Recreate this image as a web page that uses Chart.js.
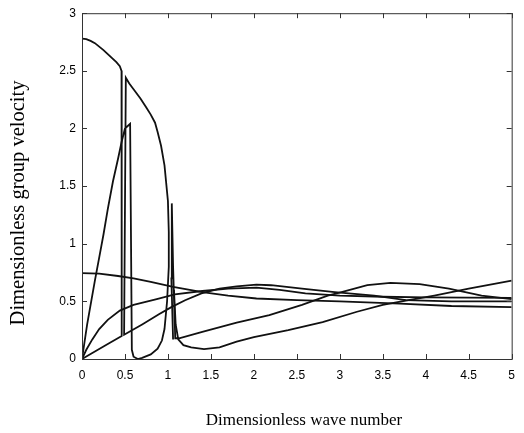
<!DOCTYPE html>
<html><head><meta charset="utf-8">
<script src="https://cdn.jsdelivr.net/npm/chart.js@4.4.1/dist/chart.umd.min.js"></script>
<style>html,body{margin:0;padding:0;background:#fff;}#wrap{width:524px;height:433px;}</style>
</head><body><div id="wrap"><canvas id="c" width="524" height="433"></canvas></div>
<script>
// Tick values
const xTickValues = [0, 0.5, 1, 1.5, 2, 2.5, 3, 3.5, 4, 4.5, 5];
const yTickValues = [0, 0.5, 1, 1.5, 2, 2.5, 3];
const xTitle = 'Dimensionless wave number';
const yTitle = 'Dimensionless group velocity';

// Curve 1: top branch, jump down, shallow line back to origin
const c1x = [0, 0.05, 0.1, 0.15, 0.2, 0.25, 0.3, 0.35, 0.4, 0.44, 0.46, 0.462, 0.3, 0.15, 0];
const c1y = [2.78, 2.775, 2.76, 2.74, 2.71, 2.68, 2.645, 2.61, 2.575, 2.54, 2.5, 0.2, 0.13, 0.065, 0];

// Curve 2: steep branch, U dip, descending branch, jump, rising line, hump at 2
const c2x = [0, 0.03, 0.06, 0.1, 0.15, 0.2, 0.25, 0.3, 0.36, 0.42, 0.46, 0.5, 0.56, 0.58, 0.6, 0.65, 0.7, 0.8, 0.88, 0.93, 0.96, 0.99, 1.01, 1.01, 1.0, 0.96, 0.92, 0.88, 0.85, 0.8, 0.75, 0.68, 0.6, 0.55, 0.51, 0.49, 0.7, 0.9, 1.04, 1.2, 1.39, 1.6, 1.8, 2.03, 2.2, 2.56, 2.94, 3.4, 3.77, 4.3, 5];
const c2y = [0, 0.15, 0.3, 0.47, 0.68, 0.88, 1.08, 1.3, 1.54, 1.74, 1.88, 2.0, 2.04, 0.08, 0.02, 0.0, 0.01, 0.04, 0.09, 0.16, 0.26, 0.5, 0.8, 1.1, 1.37, 1.68, 1.85, 1.97, 2.05, 2.12, 2.18, 2.26, 2.34, 2.39, 2.44, 0.21, 0.3, 0.39, 0.45, 0.51, 0.57, 0.61, 0.63, 0.645, 0.64, 0.61, 0.58, 0.55, 0.51, 0.5, 0.5];

// Curve 3: spike near 1.05 and straight rising line with hump at 3.7
const c3x = [1.06, 1.04, 1.045, 1.06, 1.085, 1.13, 1.4, 1.8, 2.18, 2.56, 2.86, 3.02, 3.32, 3.59, 3.93, 4.27, 4.65, 5];
const c3y = [0.17, 0.7, 1.35, 0.8, 0.18, 0.18, 0.235, 0.315, 0.38, 0.47, 0.55, 0.58, 0.64, 0.66, 0.65, 0.61, 0.55, 0.52];

// Curve 4: dip branch rising to the right edge
const c4x = [1.07, 1.09, 1.12, 1.18, 1.27, 1.42, 1.6, 1.8, 2.0, 2.4, 2.8, 3.2, 3.5, 3.8, 4.1, 4.5, 5];
const c4y = [0.6, 0.3, 0.17, 0.12, 0.1, 0.085, 0.1, 0.15, 0.19, 0.25, 0.32, 0.41, 0.47, 0.51, 0.55, 0.61, 0.68];

// Curve 5: concave branch from the origin
const c5x = [0, 0.05, 0.12, 0.2, 0.3, 0.44, 0.6, 0.87, 1.08, 1.4, 1.7, 2.03, 2.3, 2.6, 3.0, 3.5, 4.0, 5];
const c5y = [0, 0.08, 0.17, 0.26, 0.34, 0.42, 0.47, 0.52, 0.56, 0.59, 0.61, 0.62, 0.6, 0.57, 0.55, 0.54, 0.535, 0.53];

// Curve 6: slowly decreasing branch from 0.75
const c6x = [0, 0.2, 0.42, 0.6, 0.8, 1.06, 1.4, 1.7, 2.03, 2.5, 3.0, 3.7, 4.3, 5];
const c6y = [0.745, 0.74, 0.72, 0.7, 0.67, 0.625, 0.58, 0.55, 0.525, 0.51, 0.5, 0.48, 0.46, 0.45];

const curves = [[c1x, c1y], [c2x, c2y], [c3x, c3y], [c4x, c4y], [c5x, c5y], [c6x, c6y]];
const datasets = curves.map(([xs, ys]) => ({
  data: xs.map((x, i) => ({x: x, y: ys[i]})),
  showLine: true, pointRadius: 0, borderColor: '#111', borderWidth: 1.8, fill: false, tension: 0
}));

const fmt = v => String(v);
const frame = {
  id: 'frame',
  afterDatasetsDraw(chart) {
    const {ctx, chartArea: a, scales: {x, y}} = chart;
    ctx.save();
    ctx.strokeStyle = '#333'; ctx.lineWidth = 1;
    ctx.strokeRect(a.left + 0.5, a.top + 0.5, a.right - a.left, a.bottom - a.top);
    const L = 5;
    ctx.beginPath();
    xTickValues.forEach(v => {
      const px = Math.round(x.getPixelForValue(v)) + 0.5;
      ctx.moveTo(px, a.bottom); ctx.lineTo(px, a.bottom - L);
      ctx.moveTo(px, a.top); ctx.lineTo(px, a.top + L);
    });
    yTickValues.forEach(v => {
      const py = Math.round(y.getPixelForValue(v)) + 0.5;
      ctx.moveTo(a.left, py); ctx.lineTo(a.left + L, py);
      ctx.moveTo(a.right, py); ctx.lineTo(a.right - L, py);
    });
    ctx.stroke();
    ctx.restore();
  },
  afterDraw(chart) {
    const {ctx} = chart;
    ctx.save();
    ctx.fillStyle = '#000';
    ctx.textAlign = 'center';
    ctx.textBaseline = 'alphabetic';
    ctx.font = '17px "Liberation Serif"';
    ctx.fillText(xTitle, 304, 425);
    ctx.translate(24, 203);
    ctx.rotate(-Math.PI / 2);
    ctx.font = '20.5px "Liberation Serif"';
    ctx.fillText(yTitle, 0, 0);
    ctx.restore();
  }
};

new Chart(document.getElementById('c'), {
  type: 'scatter',
  data: {datasets},
  options: {
    responsive: false, animation: false, devicePixelRatio: 1,
    layout: {padding: {top: 12, right: 3, left: 0, bottom: 0}},
    plugins: {legend: {display: false}, tooltip: {enabled: false}},
    scales: {
      x: {
        type: 'linear', min: 0, max: 5,
        afterBuildTicks: s => { s.ticks = xTickValues.map(v => ({value: v})); },
        afterFit: s => { s.height = 74; },
        grid: {display: false, drawTicks: false}, border: {display: false},
        ticks: {padding: 9, color: '#000', font: {family: 'Liberation Sans', size: 12}, callback: fmt, maxRotation: 0}
      },
      y: {
        type: 'linear', min: 0, max: 3,
        afterBuildTicks: s => { s.ticks = yTickValues.map(v => ({value: v})); },
        afterFit: s => { s.width = 82; },
        grid: {display: false, drawTicks: false}, border: {display: false},
        ticks: {padding: 6, color: '#000', font: {family: 'Liberation Sans', size: 12}, callback: fmt}
      }
    }
  },
  plugins: [frame]
});
</script></body></html>
